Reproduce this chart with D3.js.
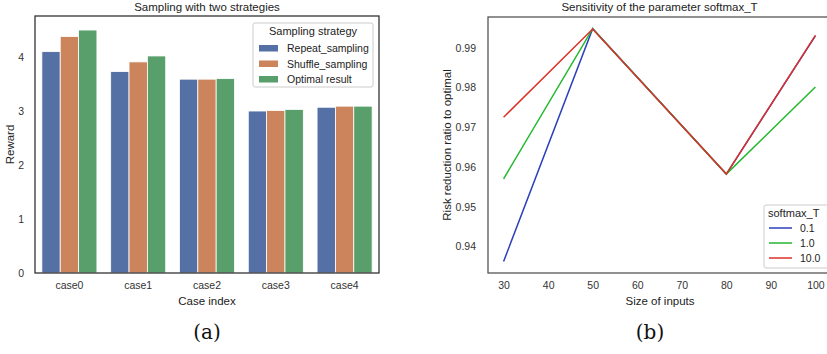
<!DOCTYPE html>
<html>
<head>
<meta charset="utf-8">
<script src="https://cdn.jsdelivr.net/npm/d3@7"></script>
<style>
  body { margin: 0; background: #fff; }
  svg { font-family: "Liberation Sans", Arial, sans-serif; }
  .tick text { fill: #333; font-size: 10.5px; }
  .lab { fill: #222; font-size: 11px; }
  .cap { font-family: "DejaVu Serif", "Liberation Serif", serif; font-size: 20px; fill: #111; }
</style>
</head>
<body>
<svg id="chart" width="827" height="354"></svg>
<script>
const CASES = ["case0", "case1", "case2", "case3", "case4"];
const STRATEGIES = ["Repeat_sampling", "Shuffle_sampling", "Optimal result"];
const REWARDS = [
  [4.10, 3.73, 3.59, 3.00, 3.07],
  [4.38, 3.91, 3.59, 3.01, 3.09],
  [4.50, 4.02, 3.60, 3.03, 3.09],
];
const BAR_COLORS = ["#5470a4", "#cc845c", "#599f6c"];
const REWARD_TICKS = [0, 1, 2, 3, 4];

const SIZES = [30, 50, 80, 100];
const TEMPS = ["0.1", "1.0", "10.0"];
const RATIOS = [
  [0.9362, 0.9948, 0.9582, 0.9930],
  [0.9570, 0.9948, 0.9582, 0.9801],
  [0.9725, 0.9947, 0.9582, 0.9931],
];
const LINE_COLORS = ["#2b3fbd", "#22b82e", "#dd3128"];
const SIZE_TICKS = [30, 40, 50, 60, 70, 80, 90, 100];
const RATIO_TICKS = [0.94, 0.95, 0.96, 0.97, 0.98, 0.99];

const svg = d3.select("#chart");

// ---- panel (a): grouped bars
const A = { left: 35, right: 379, top: 16, bottom: 273 };
const x0 = d3.scaleBand().domain(CASES).range([A.left, A.right]).paddingInner(0.2).paddingOuter(0.1);
const x1 = d3.scaleBand().domain(STRATEGIES).range([0, x0.bandwidth()]);
const ya = d3.scaleLinear().domain([0, 4.76]).range([A.bottom, A.top]);

const ga = svg.append("g");
CASES.forEach((c, i) => {
  ga.append("g")
    .selectAll("rect")
    .data(STRATEGIES.map((s, j) => ({ s, j, v: REWARDS[j][i] })))
    .join("rect")
    .attr("x", (d) => x0(c) + x1(d.s))
    .attr("y", (d) => ya(d.v))
    .attr("width", x1.bandwidth())
    .attr("height", (d) => ya(0) - ya(d.v))
    .attr("fill", (d) => BAR_COLORS[d.j])
    .attr("stroke", "#fff")
    .attr("stroke-width", 0.8);
});

ga.append("g")
  .attr("transform", "translate(0," + A.bottom + ")")
  .call(d3.axisBottom(x0).tickSize(0).tickPadding(9))
  .call((g) => g.select(".domain").remove());
ga.append("g")
  .attr("transform", "translate(" + A.left + ",0)")
  .call(d3.axisLeft(ya).tickValues(REWARD_TICKS).tickFormat(d3.format("d")).tickSize(0).tickPadding(11))
  .call((g) => g.select(".domain").remove());

ga.append("rect")
  .attr("x", A.left).attr("y", A.top)
  .attr("width", A.right - A.left).attr("height", A.bottom - A.top)
  .attr("fill", "none").attr("stroke", "#333").attr("stroke-width", 1.3);

ga.append("text").attr("class", "lab").attr("x", (A.left + A.right) / 2).attr("y", 11)
  .attr("text-anchor", "middle").style("font-size", "11.5px").text("Sampling with two strategies");
ga.append("text").attr("class", "lab").attr("x", (A.left + A.right) / 2).attr("y", 305)
  .attr("text-anchor", "middle").style("font-size", "11.5px").text("Case index");
ga.append("text").attr("class", "lab")
  .attr("transform", "translate(14," + (A.top + A.bottom) / 2 + ") rotate(-90)")
  .attr("text-anchor", "middle").style("font-size", "11.5px").text("Reward");
ga.append("text").attr("class", "cap").attr("x", 207).attr("y", 339)
  .attr("text-anchor", "middle").text("(a)");

// legend (a)
const la = ga.append("g").attr("transform", "translate(253,23)");
la.append("rect").attr("width", 120).attr("height", 64).attr("rx", 2)
  .attr("fill", "#fff").attr("fill-opacity", 0.85).attr("stroke", "#ccc");
la.append("text").attr("class", "lab").attr("x", 60).attr("y", 12)
  .attr("text-anchor", "middle").style("font-size", "11px").text("Sampling strategy");
STRATEGIES.forEach((s, j) => {
  const yy = 22 + j * 15.5;
  la.append("rect").attr("x", 6).attr("y", yy).attr("width", 19).attr("height", 6.5)
    .attr("fill", BAR_COLORS[j]);
  la.append("text").attr("class", "lab").attr("x", 34).attr("y", yy + 7)
    .style("font-size", "10.5px").text(s);
});

// ---- panel (b): lines
const B = { left: 488, right: 831, top: 17, bottom: 273 };
const xb = d3.scaleLinear().domain([26.5, 103.5]).range([B.left, B.right]);
const yb = d3.scaleLinear().domain([0.9333, 0.99773]).range([B.bottom, B.top]);

const gb = svg.append("g");
gb.append("g")
  .attr("transform", "translate(0," + B.bottom + ")")
  .call(d3.axisBottom(xb).tickValues(SIZE_TICKS).tickSize(0).tickPadding(9))
  .call((g) => g.select(".domain").remove());
gb.append("g")
  .attr("transform", "translate(" + B.left + ",0)")
  .call(d3.axisLeft(yb).tickValues(RATIO_TICKS).tickFormat(d3.format(".2f")).tickSize(0).tickPadding(12))
  .call((g) => g.select(".domain").remove());

const line = d3.line().x((d, i) => xb(SIZES[i])).y((d) => yb(d));
RATIOS.forEach((r, k) => {
  gb.append("path").attr("d", line(r)).attr("fill", "none")
    .attr("stroke", LINE_COLORS[k]).attr("stroke-width", 1.5);
});

gb.append("rect")
  .attr("x", B.left).attr("y", B.top)
  .attr("width", B.right - B.left).attr("height", B.bottom - B.top)
  .attr("fill", "none").attr("stroke", "#555").attr("stroke-width", 1.3);

gb.append("text").attr("class", "lab").attr("x", (B.left + B.right) / 2).attr("y", 11)
  .attr("text-anchor", "middle").style("font-size", "11.5px").text("Sensitivity of the parameter softmax_T");
gb.append("text").attr("class", "lab").attr("x", 660).attr("y", 305)
  .attr("text-anchor", "middle").style("font-size", "11.5px").text("Size of inputs");
gb.append("text").attr("class", "lab")
  .attr("transform", "translate(451," + (B.top + B.bottom) / 2 + ") rotate(-90)")
  .attr("text-anchor", "middle").style("font-size", "11.5px").text("Risk reduction ratio to optimal");
gb.append("text").attr("class", "cap").attr("x", 650).attr("y", 339)
  .attr("text-anchor", "middle").text("(b)");

// legend (b)
const lb = gb.append("g").attr("transform", "translate(764,205)");
lb.append("rect").attr("width", 70).attr("height", 63).attr("rx", 2)
  .attr("fill", "#fff").attr("fill-opacity", 0.85).attr("stroke", "#ccc");
lb.append("text").attr("class", "lab").attr("x", 4).attr("y", 12)
  .style("font-size", "11px").text("softmax_T");
TEMPS.forEach((t, k) => {
  const yy = 23 + k * 15;
  lb.append("line").attr("x1", 5).attr("x2", 28).attr("y1", yy).attr("y2", yy)
    .attr("stroke", LINE_COLORS[k]).attr("stroke-width", 1.5);
  lb.append("text").attr("class", "lab").attr("x", 36).attr("y", yy + 4)
    .style("font-size", "10.5px").text(t);
});
</script>
</body>
</html>
